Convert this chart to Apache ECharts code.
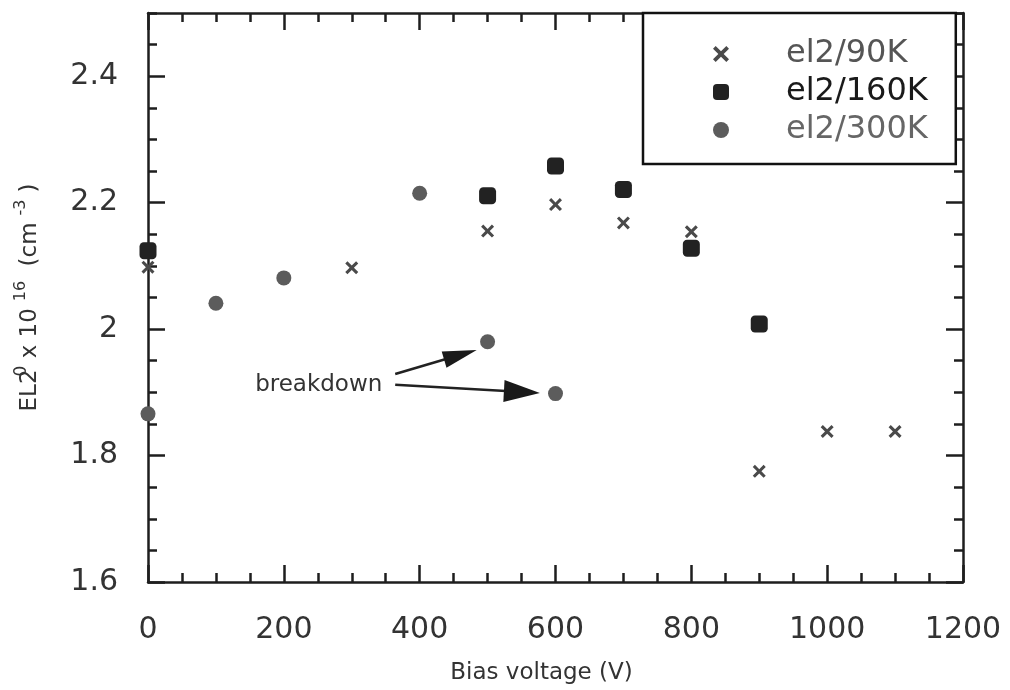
<!DOCTYPE html>
<html>
<head>
<meta charset="utf-8">
<script src="https://cdn.jsdelivr.net/npm/echarts@6/dist/echarts.min.js"></script>
<style>
  html, body { margin: 0; padding: 0; background: #fff; }
  #chart { width: 1010px; height: 690px; }
</style>
</head>
<body>
<div id="chart"></div>
<script>
// EL2 concentration vs. bias voltage, measured at three temperatures
const seriesNames = ['el2/90K', 'el2/160K', 'el2/300K'];

const voltage90 = [0, 300, 500, 600, 700, 800, 900, 1000, 1100];
const el2_90K   = [2.098, 2.097, 2.155, 2.197, 2.168, 2.154, 1.775, 1.838, 1.838];

const voltage160 = [0, 500, 600, 700, 800, 900];
const el2_160K   = [2.124, 2.211, 2.258, 2.221, 2.128, 2.008];

const voltage300 = [0, 100, 200, 400, 500, 600];
const el2_300K   = [1.866, 2.041, 2.081, 2.215, 1.980, 1.898];

// axis ranges / tick steps
const xRange = [0, 1200];
const yRange = [1.6, 2.5];
const xMajor = 200;
const yMajor = 0.2;
const yMinor = 0.05;

// "breakdown" annotation: text anchor and arrows [start, tip] in data units
const breakdownLabel = { text: 'breakdown', at: [345, 1.912] };
const breakdownArrows = [
  [[364, 1.929], [484, 1.967]],
  [[364, 1.912], [577, 1.899]]
];

const FONT = 'DejaVu Sans';
const AXIS = '#1e1e1e';

const crossPath = 'path://M2,0 L6,4 L10,0 L12,2 L8,6 L12,10 L10,12 L6,8 L2,12 L0,10 L4,6 L0,2 Z';

function pairs(xs, ys) { return xs.map((x, i) => [x, ys[i]]); }

const chart = echarts.init(document.getElementById('chart'), null, { renderer: 'canvas' });

function xAxisDef(pos, showLabels) {
  return {
    type: 'value', position: pos, min: xRange[0], max: xRange[1], interval: xMajor,
    axisLine: { show: true, onZero: false, lineStyle: { color: AXIS, width: 2.5 } },
    axisTick: { show: true, inside: true, length: 17, lineStyle: { color: AXIS, width: 2.5 } },
    minorTick: { show: true, splitNumber: 4, length: 9, lineStyle: { color: AXIS, width: 2.5 } },
    axisLabel: {
      show: showLabels, fontFamily: FONT, fontSize: 30, color: '#333', margin: 33,
      formatter: v => String(v)
    },
    splitLine: { show: false }
  };
}

function yAxisDef(pos, step, tickLen, showLabels, showLine) {
  return {
    type: 'value', position: pos, min: yRange[0], max: yRange[1], interval: step,
    axisLine: { show: showLine, onZero: false, lineStyle: { color: AXIS, width: 2.5 } },
    axisTick: { show: true, inside: true, length: tickLen, lineStyle: { color: AXIS, width: 2.5 } },
    axisLabel: {
      show: showLabels, fontFamily: FONT, fontSize: 30, color: '#333', margin: 30,
      showMaxLabel: false,
      formatter: v => (Math.abs(v - 2) < 1e-9 ? '2' : v.toFixed(1))
    },
    splitLine: { show: false }
  };
}

const yMain = yAxisDef('left', yMajor, 17, true, true);
yMain.name = '{t|EL2}{s0|0}{t| x 10}{s|16}{t| (cm}{s|-3}{t|)}';
yMain.nameLocation = 'middle';
yMain.nameRotate = 90;
yMain.nameGap = 100;
yMain.nameTextStyle = {
  fontFamily: FONT, color: '#333',
  rich: {
    t: { fontFamily: FONT, fontSize: 23, color: '#333' },
    s0: { fontFamily: FONT, fontSize: 17, color: '#333', padding: [0, 0, 17, -7] },
    s: { fontFamily: FONT, fontSize: 16, color: '#333', padding: [0, 7, 19, 7] }
  }
};

const xMain = xAxisDef('bottom', true);
xMain.name = 'Bias voltage (V)';
xMain.nameLocation = 'middle';
xMain.nameGap = 80;
xMain.nameTextStyle = { fontFamily: FONT, fontSize: 23, color: '#333', padding: [0, 28, 0, 0] };

const option = {
  backgroundColor: '#fff',
  animation: false,
  grid: { left: 148, right: 47, top: 13, bottom: 106, containLabel: false },
  xAxis: [xMain, xAxisDef('top', false)],
  yAxis: [
    yMain,
    yAxisDef('left', yMinor, 9, false, false),
    yAxisDef('right', yMajor, 17, false, true),
    yAxisDef('right', yMinor, 9, false, false)
  ],
  legend: {
    orient: 'vertical',
    left: 643, top: 13,
    padding: [25, 28, 18, 70],
    itemGap: 6,
    itemWidth: 16, itemHeight: 16,
    backgroundColor: '#fff',
    borderColor: '#111', borderWidth: 2.5, borderRadius: 0,
    data: [
      { name: seriesNames[0], textStyle: { color: '#555' } },
      { name: seriesNames[1], textStyle: { color: '#1a1a1a' } },
      { name: seriesNames[2], textStyle: { color: '#666' } }
    ],
    textStyle: { fontFamily: FONT, fontSize: 32, padding: [0, 0, 0, 52] }
  },
  series: [
    {
      name: seriesNames[0], type: 'scatter', clip: false,
      symbol: crossPath, symbolSize: 13,
      itemStyle: { color: '#4a4a4a', opacity: 1 },
      data: pairs(voltage90, el2_90K), z: 3
    },
    {
      name: seriesNames[1], type: 'scatter', clip: false,
      symbol: 'roundRect', symbolSize: 17,
      itemStyle: { color: '#222', opacity: 1 },
      data: pairs(voltage160, el2_160K), z: 4
    },
    {
      name: seriesNames[2], type: 'scatter', clip: false,
      symbol: 'circle', symbolSize: 15,
      itemStyle: { color: '#5c5c5c', opacity: 1 },
      data: pairs(voltage300, el2_300K), z: 5
    }
  ]
};

chart.setOption(option);

// annotation drawn from data coordinates
function toPx(p) { return chart.convertToPixel({ xAxisIndex: 0, yAxisIndex: 0 }, p); }

const heads = [{ len: 34, wid: 17 }, { len: 36, wid: 22 }];
const graphics = [];
breakdownArrows.forEach((arr, i) => {
  const s = toPx(arr[0]);
  const t = toPx(arr[1]);
  const dx = t[0] - s[0], dy = t[1] - s[1];
  const L = Math.hypot(dx, dy);
  const ux = dx / L, uy = dy / L;
  const nx = -uy, ny = ux;
  const h = heads[i];
  const bx = t[0] - ux * h.len, by = t[1] - uy * h.len;
  graphics.push({
    type: 'line', z: 10,
    shape: { x1: s[0], y1: s[1], x2: bx + ux * 2, y2: by + uy * 2 },
    style: { stroke: '#222', lineWidth: 2.5 }
  });
  graphics.push({
    type: 'polygon', z: 10,
    shape: { points: [[t[0], t[1]], [bx + nx * h.wid / 2, by + ny * h.wid / 2], [bx - nx * h.wid / 2, by - ny * h.wid / 2]] },
    style: { fill: '#1a1a1a' }
  });
});
const lp = toPx(breakdownLabel.at);
graphics.push({
  type: 'text', z: 10, x: lp[0], y: lp[1],
  style: { text: breakdownLabel.text, fontFamily: FONT, fontSize: 23, fill: '#333', align: 'right', verticalAlign: 'middle' }
});
chart.setOption({ graphic: graphics });
</script>
</body>
</html>
